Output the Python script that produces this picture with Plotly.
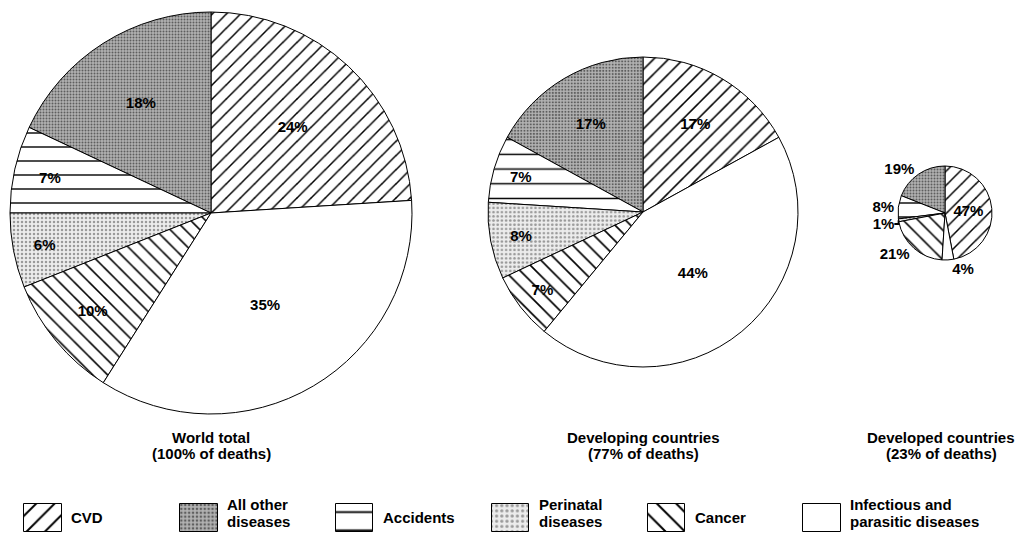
import plotly.graph_objects as go

W, H = 1022, 537

# ---------------- data ----------------
categories = ["CVD", "All other diseases", "Accidents", "Perinatal diseases",
              "Cancer", "Infectious and parasitic diseases"]
legend_labels = [["CVD"], ["All other", "diseases"], ["Accidents"], ["Perinatal", "diseases"],
                 ["Cancer"], ["Infectious and", "parasitic diseases"]]
world = [24, 18, 7, 6, 10, 35]
developing = [17, 17, 7, 8, 7, 44]
developed = [47, 19, 8, 1, 21, 4]
pie_titles = [["World total", "(100% of deaths)"],
              ["Developing countries", "(77% of deaths)"],
              ["Developed countries", "(23% of deaths)"]]

# ---------------- styles ----------------
FONT = "Liberation Sans, Arial, Helvetica, sans-serif"
styles = {
    "CVD": dict(shape="/", fg="black", bg="white", size=10, solidity=0.15),
    "All other diseases": dict(shape=".", fg="#5e5e5e", bg="#b2b2b2", size=3, solidity=0.35),
    "Accidents": dict(shape="-", fg="black", bg="white", size=14, solidity=0.1),
    "Perinatal diseases": dict(shape=".", fg="#9a9a9a", bg="#ececec", size=4, solidity=0.3),
    "Cancer": dict(shape="\\", fg="black", bg="white", size=10.5, solidity=0.15),
    "Infectious and parasitic diseases": dict(shape="", fg="black", bg="white", size=10, solidity=0.1),
}


def pattern_for(scale=1.0):
    return dict(
        shape=[styles[c]["shape"] for c in categories],
        fgcolor=[styles[c]["fg"] for c in categories],
        bgcolor=[styles[c]["bg"] for c in categories],
        size=[styles[c]["size"] * scale for c in categories],
        solidity=[styles[c]["solidity"] for c in categories],
        fillmode="replace",
    )


def domain(cx, cy, r):
    return dict(x=[(cx - r) / W, (cx + r) / W], y=[1 - (cy + r) / H, 1 - (cy - r) / H])


# pie geometry: center x, center y, radius (pixels)
pie_geom = [(211, 213, 201), (643, 212, 155), (945, 213, 47)]
pattern_scale = [1.0, 1.05, 1.0]
title_x = [211, 643, 941]

fig = go.Figure()

series = [world, developing, developed]
for k, vals in enumerate(series):
    cx, cy, r = pie_geom[k]
    if k < 2:
        tpos = "inside"
    else:
        tpos = ["inside"] + ["outside"] * (len(categories) - 1)
    fig.add_trace(go.Pie(
        uid="pie%d" % k,
        labels=categories,
        values=vals,
        sort=False,
        direction="counterclockwise",
        rotation=0,
        domain=domain(cx, cy, r),
        marker=dict(colors=[styles[c]["bg"] for c in categories],
                    line=dict(color="black", width=1),
                    pattern=pattern_for(pattern_scale[k])),
        texttemplate="%{value}%",
        textposition=tpos,
        insidetextorientation="horizontal",
        insidetextfont=dict(family=FONT, size=15, color="black", weight="bold"),
        outsidetextfont=dict(family=FONT, size=15, color="black", weight="bold"),
        showlegend=False,
        hoverinfo="label+value",
    ))

# ---------------- legend swatches (one bar per category on a hidden axis) ----------------
for i, c in enumerate(categories):
    st = styles[c]
    fig.add_trace(go.Bar(
        uid="legend%d" % i,
        x=[i],
        y=[1],
        base=0,
        width=0.24,
        marker=dict(
            color=st["bg"],
            line=dict(color="black", width=1),
            pattern=dict(shape=st["shape"], fgcolor=st["fg"], bgcolor=st["bg"],
                         size=st["size"] * 1.3, solidity=st["solidity"], fillmode="replace"),
        ),
        showlegend=False,
        hoverinfo="skip",
        xaxis="x",
        yaxis="y",
    ))

annotations = []
for i, lines in enumerate(legend_labels):
    if len(lines) == 1:
        ys = [517]
    else:
        ys = [504, 521]
    for ln, yy in zip(lines, ys):
        annotations.append(dict(
            x=i + 0.17, y=1 - yy / H, xref="x", yref="paper",
            text=ln, showarrow=False, xanchor="left", yanchor="middle", align="left",
            font=dict(family=FONT, size=15, color="black", weight="bold"),
        ))

for k, lines in enumerate(pie_titles):
    for ln, yy in zip(lines, [437, 453]):
        annotations.append(dict(
            x=title_x[k] / W, y=1 - yy / H, xref="paper", yref="paper",
            text=ln, showarrow=False, xanchor="center", yanchor="middle", align="center",
            font=dict(family=FONT, size=15, color="black", weight="bold"),
        ))

u = 155.8
x0 = -43 / u
fig.update_layout(
    width=W, height=H,
    margin=dict(l=0, r=0, t=0, b=0),
    paper_bgcolor="white",
    plot_bgcolor="white",
    xaxis=dict(domain=[0, 1], range=[x0, x0 + W / u], visible=False, fixedrange=True),
    yaxis=dict(domain=[1 - 533 / H, 1 - 503 / H], range=[-0.05, 1.05], visible=False, fixedrange=True),
    annotations=annotations,
    barmode="overlay",
    bargap=0,
)

fig.write_html("out.html")
